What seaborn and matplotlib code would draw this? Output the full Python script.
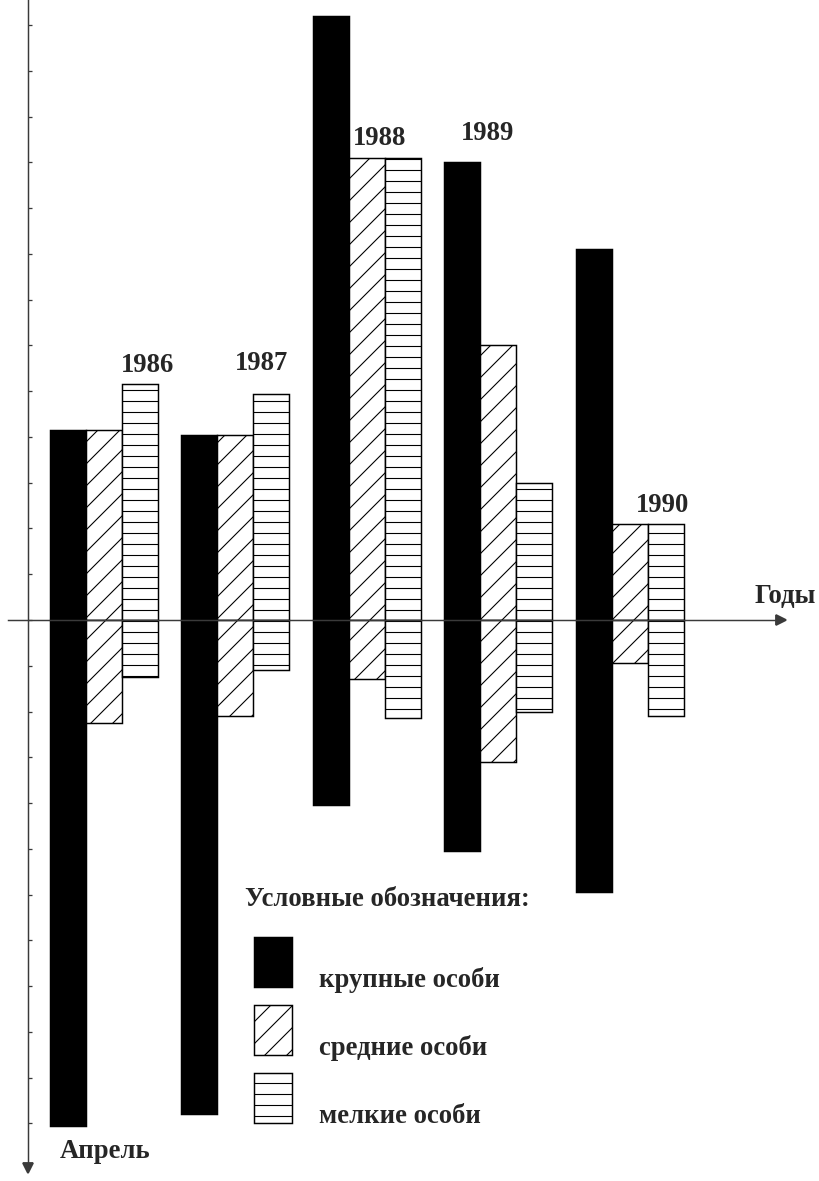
import pandas as pd
import numpy as np
import matplotlib.pyplot as plt
import seaborn as sns
from matplotlib.patches import Patch, Rectangle
from matplotlib.legend_handler import HandlerPatch

# ---- DATA (one tick on the vertical axis = 1) ----
years = ["1986", "1987", "1988", "1989", "1990"]
sizes = ["крупные особи", "средние особи", "мелкие особи"]

large_top = [4.15, 4.05, 13.2, 10.0, 8.1]
large_bottom = [-11.05, -10.8, -4.05, -5.05, -5.95]
medium_top = [4.15, 4.05, 10.1, 6.0, 2.1]
medium_bottom = [-2.25, -2.1, -1.3, -3.1, -0.95]
small_top = [5.15, 4.95, 10.1, 3.0, 2.1]
small_bottom = [-1.25, -1.1, -2.15, -2.0, -2.1]

df = pd.DataFrame({
    "year": years * 3,
    "size": np.repeat(sizes, len(years)),
    "top": large_top + medium_top + small_top,
    "bottom": large_bottom + medium_bottom + small_bottom,
})

# ---- STYLE ----
sns.set_style("white")
plt.rcParams["font.family"] = ["Liberation Serif", "DejaVu Serif"]
plt.rcParams["font.weight"] = "bold"
plt.rcParams["hatch.linewidth"] = 0.6

DPI = 132
FS = 14.5
fig = plt.figure(figsize=(819 / DPI, 1181 / DPI), dpi=DPI)
ax = fig.add_axes([0, 0, 1, 1])

palette = {sizes[0]: "black", sizes[1]: "white", sizes[2]: "white"}
hatches = {sizes[0]: None, sizes[1]: "//", sizes[2]: "--"}

# bars span through zero: draw the upper and the lower part
for col in ["top", "bottom"]:
    sns.barplot(data=df, x="year", y=col, hue="size", hue_order=sizes,
                palette=palette, saturation=1, width=0.82, gap=0,
                errorbar=None, edgecolor="black", linewidth=0.8,
                legend=False, ax=ax)

for i, cont in enumerate(ax.containers):
    h = hatches[sizes[i % 3]]
    for bar in cont:
        bar.set_hatch(h)

ax.set_xlim(-0.79, 5.44)
ax.set_ylim(-12.26, 13.55)
ax.set_xlabel("")
ax.set_ylabel("")

# ---- AXES ----
axis_col = "#3a3a3a"
ax.spines["top"].set_visible(False)
ax.spines["right"].set_visible(False)
ax.spines["left"].set_position(("axes", 28 / 819))
ax.spines["left"].set_bounds(-11.9, 13.55)
ax.spines["bottom"].set_position(("data", 0))
ax.spines["bottom"].set_bounds(-0.73, 5.13)
for s in ["left", "bottom"]:
    ax.spines[s].set_color(axis_col)
    ax.spines[s].set_linewidth(0.8)

ax.set_yticks(range(-11, 14))
ax.tick_params(axis="y", left=True, direction="in", length=2.2, width=0.7,
               color=axis_col, labelleft=False)
ax.tick_params(axis="x", bottom=False, labelbottom=False)

# arrow heads
ax.plot([28 / 819], [(1181 - 1168) / 1181], marker="v", ms=5, color=axis_col,
        transform=ax.transAxes, clip_on=False)
ax.plot([5.15], [0], marker=">", ms=5, color=axis_col, clip_on=False)

# ---- TEXT ----
label_dx = [0.335, 0.20, 0.10, -0.08, 0.25]
label_y = [5.42, 5.46, 10.38, 10.49, 2.36]
for i, yr in enumerate(years):
    ax.text(i + label_dx[i], label_y[i], yr, ha="center", va="baseline",
            fontsize=FS, fontweight="bold")

ax.text(755 / 819, 0.37, "Годы", transform=ax.get_yaxis_transform(),
        ha="left", va="baseline", fontsize=FS, fontweight="bold")
ax.text(60 / 819, (1181 - 1158) / 1181, "Апрель", transform=ax.transAxes,
        ha="left", va="baseline", fontsize=FS, fontweight="bold")

# ---- LEGEND ----
ax.text(245 / 819, 1 - 906 / 1181, "Условные обозначения:",
        transform=ax.transAxes, ha="left", va="baseline",
        fontsize=FS, fontweight="bold")

box_h = 50 * 72 / DPI  # legend box height in points


def legend_box(legend, orig_handle, xdescent, ydescent, width, height, fontsize):
    # box sits on the text baseline, as in the printed key
    return Rectangle((-xdescent, 0), width, box_h)


handles = [Patch(facecolor=palette[s], edgecolor="black", linewidth=0.8,
                 hatch=hatches[s]) for s in sizes]
leg = ax.legend(handles, sizes, loc="upper left",
                bbox_to_anchor=(254 / 819, 1 - 954 / 1181),
                frameon=False, fontsize=FS,
                handler_map={Patch: HandlerPatch(patch_func=legend_box)},
                handlelength=1.43, handleheight=2.52, labelspacing=0.68,
                handletextpad=1.0, borderpad=0, borderaxespad=0)

fig.savefig("out.png", dpi=DPI, facecolor="white")
